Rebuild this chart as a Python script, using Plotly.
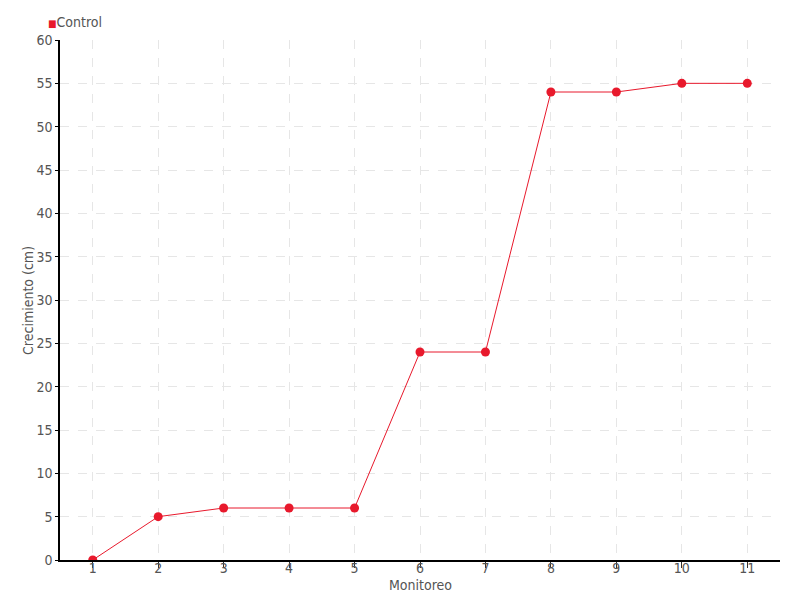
import plotly.graph_objects as go

monitoreo = ["1", "2", "3", "4", "5", "6", "7", "8", "9", "10", "11"]
control = [0, 5, 6, 6, 6, 24, 24, 54, 54, 55, 55]
y_ticks = list(range(0, 61, 5))

RED = "#e8192c"
FONT = "DejaVu Sans Condensed"
GREY = "#555555"

fig = go.Figure()
fig.add_trace(go.Scatter(
    x=list(range(1, len(monitoreo) + 1)), y=control, mode="lines+markers",
    name="Control", showlegend=False,
    line=dict(color=RED, width=1),
    marker=dict(color=RED, size=9),
))

fig.update_layout(
    width=792, height=592, autosize=False,
    margin=dict(l=52, r=20, t=32, b=40, pad=0, autoexpand=False),
    paper_bgcolor="white", plot_bgcolor="white",
    font=dict(family=FONT, color=GREY, size=14),
    xaxis=dict(
        range=[0.5, 11.5], automargin=False,
        tickmode="array",
        tickvals=list(range(1, len(monitoreo) + 1)),
        ticktext=monitoreo,
        showgrid=True, gridcolor="#e6e6e6", griddash="dash", gridwidth=1,
        showline=True, linecolor="black", linewidth=1.5,
        ticks="outside", ticklen=6, tickcolor="#333333",
        ticklabelstandoff=-12,
        zeroline=False,
        tickfont=dict(size=14, color=GREY),
    ),
    yaxis=dict(
        range=[0, 60], automargin=False,
        tickmode="array", tickvals=y_ticks,
        showgrid=True, gridcolor="#e6e6e6", griddash="dash", gridwidth=1,
        showline=True, linecolor="black", linewidth=1.5,
        ticks="outside", ticklen=3, tickcolor="black",
        zeroline=False,
        tickfont=dict(size=14, color=GREY),
    ),
    annotations=[
        dict(
            xref="paper", yref="paper", x=-0.019, y=1.0, yshift=18,
            xanchor="left", yanchor="middle", showarrow=False,
            text="<span style='color:%s;font-size:10px'>■</span>Control" % RED,
            font=dict(size=14, color=GREY, family=FONT),
        ),
        dict(
            xref="paper", yref="paper", x=0.5, y=0, yshift=-25,
            xanchor="center", yanchor="middle", showarrow=False,
            text="Monitoreo", font=dict(size=14, color=GREY, family=FONT),
        ),
        dict(
            xref="paper", yref="paper", x=-0.0445, y=0.5,
            xanchor="center", yanchor="middle", showarrow=False, textangle=-90,
            text="Crecimiento (cm)", font=dict(size=14, color=GREY, family=FONT),
        ),
    ],
)

fig.write_html("out.html")
